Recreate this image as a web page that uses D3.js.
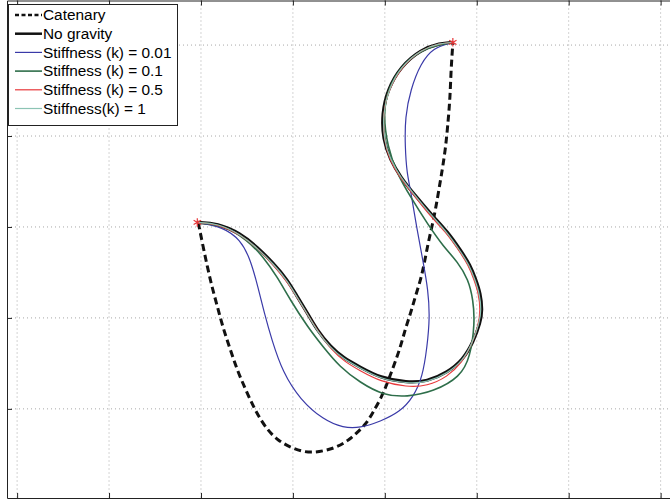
<!DOCTYPE html>
<html>
<head>
<meta charset="utf-8">
<script src="https://cdn.jsdelivr.net/npm/d3@7"></script>
<style>
    body { margin: 0; background: #fff; }
    #chart { width: 670px; height: 501px; overflow: hidden; }
    .grid line { stroke: #a8a8a8; stroke-dasharray: 1,3; }
    .legend text { font-family: "Liberation Sans", Arial, sans-serif; font-size: 15.4px; }
</style>
</head>
<body>
<div id="chart"></div>
<script>

// Cable shapes (grid units)
let catenaryX = [1.97, 2.02, 2.07, 2.12, 2.18, 2.24, 2.32, 2.40, 2.50, 2.60, 2.72, 2.84, 2.97, 3.10, 3.22, 3.35, 3.48, 3.60, 3.70, 3.80, 3.87, 3.96, 4.03, 4.10, 4.17, 4.22, 4.28, 4.33, 4.39, 4.43, 4.47, 4.53, 4.57, 4.61, 4.66, 4.69, 4.71, 4.72, 4.74];
let catenaryY = [3.05, 2.80, 2.56, 2.34, 2.12, 1.89, 1.65, 1.41, 1.18, 0.96, 0.77, 0.65, 0.58, 0.53, 0.52, 0.54, 0.58, 0.65, 0.74, 0.84, 0.96, 1.12, 1.29, 1.48, 1.68, 1.87, 2.05, 2.23, 2.42, 2.60, 2.82, 3.08, 3.30, 3.54, 3.85, 4.18, 4.43, 4.73, 5.02];

let noGravityX = [1.96, 2.18, 2.43, 2.61, 2.79, 2.94, 3.05, 3.16, 3.26, 3.41, 3.55, 3.73, 3.95, 4.24, 4.46, 4.68, 4.85, 4.96, 5.04, 5.06, 5.04, 4.99, 4.93, 4.82, 4.68, 4.53, 4.31, 4.17, 4.06, 3.98, 3.97, 4.03, 4.17, 4.39, 4.60, 4.74];
let noGravityY = [3.05, 3.04, 2.93, 2.78, 2.60, 2.42, 2.23, 2.05, 1.87, 1.68, 1.56, 1.46, 1.34, 1.29, 1.30, 1.40, 1.54, 1.73, 1.95, 2.09, 2.27, 2.42, 2.58, 2.75, 2.95, 3.11, 3.37, 3.55, 3.74, 3.96, 4.25, 4.51, 4.76, 4.95, 5.02, 5.03];

let k001X = [1.96, 2.24, 2.43, 2.54, 2.62, 2.69, 2.77, 2.89, 3.08, 3.33, 3.55, 3.73, 3.95, 4.17, 4.31, 4.41, 4.46, 4.49, 4.47, 4.42, 4.35, 4.28, 4.24, 4.22, 4.22, 4.28, 4.39, 4.53, 4.71];
let k001Y = [3.05, 3.00, 2.86, 2.64, 2.34, 2.05, 1.76, 1.40, 1.10, 0.88, 0.79, 0.79, 0.86, 0.97, 1.13, 1.35, 1.68, 2.01, 2.31, 2.60, 2.97, 3.41, 3.59, 3.88, 4.21, 4.51, 4.80, 4.97, 5.02];

let k01X = [1.96, 2.24, 2.50, 2.68, 2.83, 2.97, 3.16, 3.33, 3.51, 3.73, 3.98, 4.24, 4.53, 4.82, 4.93, 4.98, 4.96, 4.91, 4.79, 4.64, 4.46, 4.28, 4.13, 4.03, 3.98, 4.04, 4.20, 4.46, 4.73];
let k01Y = [3.05, 3.02, 2.86, 2.67, 2.45, 2.20, 1.90, 1.68, 1.46, 1.29, 1.15, 1.13, 1.19, 1.35, 1.57, 1.95, 2.20, 2.42, 2.62, 2.78, 3.04, 3.33, 3.59, 3.88, 4.25, 4.54, 4.80, 4.98, 5.03];

let k05X = [1.96, 2.19, 2.44, 2.62, 2.80, 2.95, 3.06, 3.17, 3.28, 3.42, 3.56, 3.73, 3.95, 4.24, 4.46, 4.68, 4.84, 4.94, 5.02, 5.04, 5.02, 4.97, 4.91, 4.80, 4.66, 4.50, 4.30, 4.16, 4.05, 3.99, 3.98, 4.04, 4.18, 4.39, 4.60, 4.74];
let k05Y = [3.05, 3.03, 2.91, 2.76, 2.57, 2.38, 2.20, 2.02, 1.84, 1.65, 1.52, 1.42, 1.30, 1.24, 1.25, 1.35, 1.51, 1.69, 1.92, 2.09, 2.27, 2.42, 2.58, 2.75, 2.95, 3.11, 3.37, 3.55, 3.74, 3.96, 4.25, 4.51, 4.76, 4.95, 5.02, 5.03];

let k1X = [1.96, 2.18, 2.43, 2.61, 2.79, 2.94, 3.05, 3.16, 3.26, 3.41, 3.55, 3.73, 3.95, 4.24, 4.46, 4.68, 4.85, 4.95, 5.03, 5.05, 5.03, 4.98, 4.92, 4.81, 4.67, 4.52, 4.31, 4.17, 4.06, 3.99, 3.98, 4.04, 4.17, 4.39, 4.60, 4.74];
let k1Y = [3.05, 3.04, 2.92, 2.77, 2.59, 2.41, 2.22, 2.04, 1.86, 1.67, 1.55, 1.45, 1.33, 1.28, 1.29, 1.39, 1.53, 1.72, 1.95, 2.09, 2.27, 2.42, 2.58, 2.75, 2.95, 3.11, 3.37, 3.55, 3.74, 3.96, 4.25, 4.51, 4.76, 4.95, 5.02, 5.03];

// fixed ends of the cable
let endX = [1.96, 4.74];
let endY = [3.05, 5.03];

let xTicks = [0, 1, 2, 3, 4, 5, 6, 7];
let yTicks = [1, 2, 3, 4, 5];

let seriesNames = ["Catenary", "No gravity", "Stiffness (k) = 0.01", "Stiffness (k) = 0.1", "Stiffness (k) = 0.5", "Stiffness(k) = 1"];


let margin = { top: 0.5, left: 7 };
let width = 672, height = 497.5;

let svg = d3.select("#chart").append("svg")
    .attr("width", 670)
    .attr("height", 501)
    .append("g")
    .attr("transform", "translate(" + margin.left + "," + margin.top + ")");

let x = d3.scaleLinear().domain([-0.11, 7.2]).range([0, width]);
let y = d3.scaleLinear().domain([0.02, 5.49]).range([height, 0]);

// dotted grid
svg.append("g").attr("class", "grid")
    .selectAll("line.gx").data(xTicks).enter().append("line")
    .attr("x1", d => x(d)).attr("x2", d => x(d))
    .attr("y1", 0).attr("y2", height);

svg.append("g").attr("class", "grid")
    .selectAll("line.gy").data(yTicks).enter().append("line")
    .attr("y1", d => y(d)).attr("y2", d => y(d))
    .attr("x1", 0).attr("x2", width);

// axes box with inward ticks, no labels
svg.append("g").attr("transform", "translate(0," + height + ")")
    .call(d3.axisBottom(x).tickValues(xTicks).tickFormat("").tickSizeInner(-5).tickSizeOuter(0));
svg.append("g")
    .call(d3.axisTop(x).tickValues(xTicks).tickFormat("").tickSizeInner(-5).tickSizeOuter(0));
svg.append("g")
    .call(d3.axisLeft(y).tickValues(yTicks).tickFormat("").tickSizeInner(-5).tickSizeOuter(0));
svg.append("g").attr("transform", "translate(" + width + ",0)")
    .call(d3.axisRight(y).tickValues(yTicks).tickFormat("").tickSizeInner(-5).tickSizeOuter(0));
svg.selectAll(".domain, .tick line").attr("stroke", "#222");

// basis smooths out the reading noise in the traced points
let line = d3.line()
    .x(d => x(d[0]))
    .y(d => y(d[1]))
    .curve(d3.curveBasis);

let zip = (xs, ys) => xs.map((v, i) => [v, ys[i]]);

let series = [
    { name: seriesNames[0], pts: zip(catenaryX, catenaryY), color: "#111", w: 3, dash: "7,4" },
    { name: seriesNames[1], pts: zip(noGravityX, noGravityY), color: "#111", w: 3.2, dash: null },
    { name: seriesNames[2], pts: zip(k001X, k001Y), color: "#3a3aa8", w: 1.2, dash: null },
    { name: seriesNames[3], pts: zip(k01X, k01Y), color: "#2e6e4a", w: 1.6, dash: null },
    { name: seriesNames[4], pts: zip(k05X, k05Y), color: "#e8383a", w: 1.2, dash: null },
    { name: seriesNames[5], pts: zip(k1X, k1Y), color: "#8cc4b4", w: 1.2, dash: null }
];

series.forEach(s => {
    svg.append("path")
        .datum(s.pts)
        .attr("fill", "none")
        .attr("stroke", s.color)
        .attr("stroke-width", s.w)
        .attr("stroke-dasharray", s.dash)
        .attr("d", line);
});

// end points
svg.selectAll(".end")
    .data(zip(endX, endY))
    .enter().append("path")
    .attr("class", "end")
    .attr("transform", d => "translate(" + x(d[0]) + "," + y(d[1]) + ")")
    .attr("d", d3.symbol(d3.symbolAsterisk, 50))
    .attr("fill", "none")
    .attr("stroke", "#e8383a")
    .attr("stroke-width", 1.2);

// legend
let legend = d3.select("#chart svg").append("g").attr("class", "legend");

legend.append("rect")
    .attr("x", 8.5).attr("y", 4.5)
    .attr("width", 169).attr("height", 121)
    .attr("fill", "#fff")
    .attr("stroke", "#222");

let rows = legend.selectAll(".row")
    .data(series)
    .enter().append("g")
    .attr("transform", (d, i) => "translate(0," + (15 + i * 18.7) + ")");

rows.append("line")
    .attr("x1", 15).attr("x2", 42)
    .attr("stroke", d => d.color)
    .attr("stroke-width", d => d.w > 2 ? 2.5 : d.w)
    .attr("stroke-dasharray", d => d.dash ? "4,2.5" : null);

rows.append("text")
    .attr("x", 43)
    .attr("dy", "0.35em")
    .text(d => d.name);

</script>
</body>
</html>
